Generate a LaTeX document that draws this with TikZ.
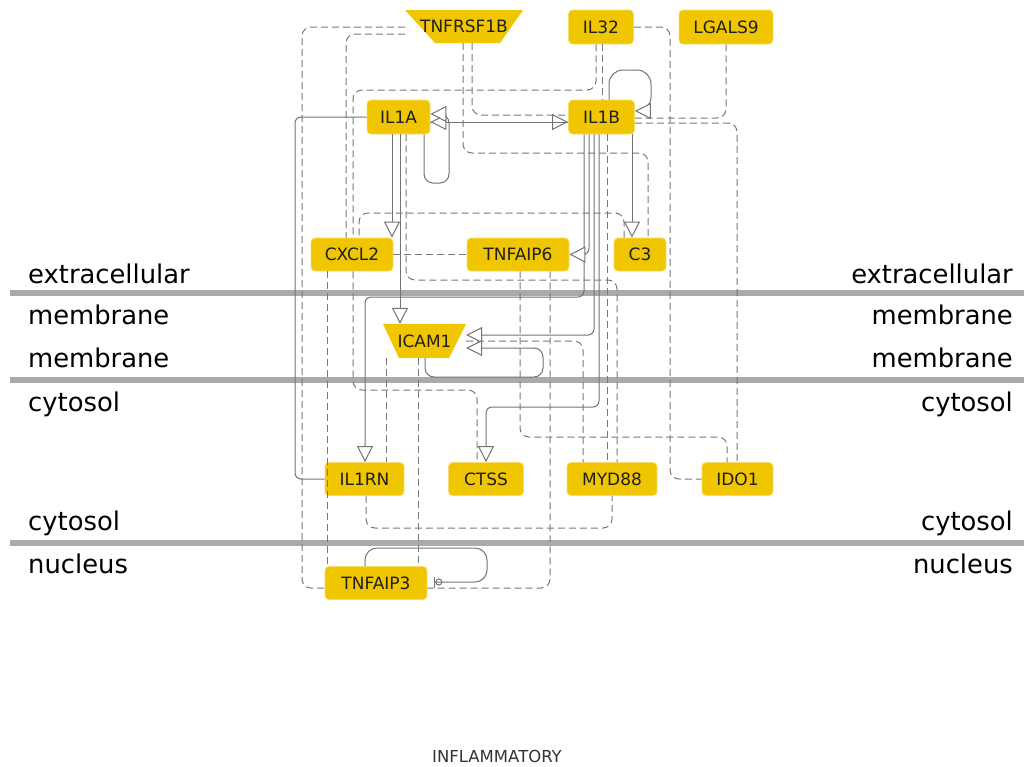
\documentclass[tikz,border=0pt]{standalone}
\usepackage{fontspec}
\newfontfamily\dv{DejaVu Sans}
\usetikzlibrary{arrows.meta}
\definecolor{gold}{RGB}{240,198,0}
\definecolor{goldedge}{RGB}{246,220,110}
\definecolor{edgegray}{RGB}{115,115,115}
\definecolor{dashgray}{RGB}{120,120,120}
\definecolor{bargray}{RGB}{170,170,170}
\begin{document}
\begin{tikzpicture}[x=1pt,y=-1pt,
  gene/.style={rectangle, rounded corners=4pt, fill=gold, draw=goldedge, line width=0.8pt, inner sep=0pt, font=\dv\fontsize{17}{18}\selectfont, text=black!88},
  ghost/.style={rectangle, inner sep=0pt, font=\dv\fontsize{17}{18}\selectfont, text=black!88},
  act/.style={draw=edgegray, line width=1pt, rounded corners=6pt, -{Triangle[length=16pt,width=16pt,fill=white]}},
  inhib/.style={draw=edgegray, line width=1pt, rounded corners=6pt, -{Circle[open,length=7pt,width=7pt]Bar[width=11pt]}, shorten >=7pt},
  plainedge/.style={draw=edgegray, line width=1pt, rounded corners=6pt},
  link/.style={draw=dashgray, line width=1pt, rounded corners=9pt, dash pattern=on 7pt off 4pt},
  comp/.style={font=\dv\fontsize{25.8}{28}\selectfont, inner sep=0pt, text=black},
  cbar/.style={draw=bargray, line width=6pt},
]
\useasboundingbox (0,0) rectangle (1024,766);
% compartment bars
\draw[cbar] (10,293) -- (1024,293);
\draw[cbar] (10,380) -- (1024,380);
\draw[cbar] (10,543) -- (1024,543);
% compartment labels
\node[comp, anchor=base west] (l1) at (28,283) {extracellular};
\node[comp, anchor=base west] (l2) at (28,324) {membrane};
\node[comp, anchor=base west] (l3) at (28,367) {membrane};
\node[comp, anchor=base west] (l4) at (28,411) {cytosol};
\node[comp, anchor=base west] (l5) at (28,530) {cytosol};
\node[comp, anchor=base west] (l6) at (28,573) {nucleus};
\node[comp, anchor=base east] (r1) at (1013,283) {extracellular};
\node[comp, anchor=base east] (r2) at (1013,324) {membrane};
\node[comp, anchor=base east] (r3) at (1013,367) {membrane};
\node[comp, anchor=base east] (r4) at (1013,411) {cytosol};
\node[comp, anchor=base east] (r5) at (1013,530) {cytosol};
\node[comp, anchor=base east] (r6) at (1013,573) {nucleus};
% trapezoid shapes
\fill[gold] (405,10) -- (523,10) -- (500,43) -- (435,43) -- cycle;
\fill[gold] (383,324) -- (466,324) -- (449,358) -- (399,358) -- cycle;
% nodes
\node[ghost, minimum width=118pt, minimum height=33pt] (tnfr) at (464,26.5) {TNFRSF1B};
\node[gene, minimum width=65pt, minimum height=34pt] (il32) at (601,27) {IL32};
\node[gene, minimum width=94pt, minimum height=34pt] (lgals9) at (726,27) {LGALS9};
\node[gene, minimum width=63pt, minimum height=34pt] (il1a) at (398.5,117) {IL1A};
\node[gene, minimum width=66pt, minimum height=34pt] (il1b) at (601.5,117) {IL1B};
\node[gene, minimum width=82pt, minimum height=33pt] (cxcl2) at (352,254.5) {CXCL2};
\node[gene, minimum width=102pt, minimum height=33pt] (tnfaip6) at (518,254.5) {TNFAIP6};
\node[gene, minimum width=52pt, minimum height=33pt] (c3) at (640,254.5) {C3};
\node[ghost, minimum width=83pt, minimum height=34pt] (icam1) at (424.5,341) {ICAM1};
\node[gene, minimum width=79pt, minimum height=33pt] (il1rn) at (364.5,479) {IL1RN};
\node[gene, minimum width=75pt, minimum height=33pt] (ctss) at (486,479) {CTSS};
\node[gene, minimum width=90pt, minimum height=33pt] (myd88) at (612,479) {MYD88};
\node[gene, minimum width=71pt, minimum height=33pt] (ido1) at (737.5,479) {IDO1};
\node[gene, minimum width=102pt, minimum height=33pt] (tnfaip3) at (376,583) {TNFAIP3};
\node[font=\dv\fontsize{16.5}{18}\selectfont, text=black!80, inner sep=0pt] (title) at (497,756) {INFLAMMATORY};
% dashed links
\draw[link] (tnfr.south -| 472,0) -- (472,115) -- (il1b.west |- 0,115);
\draw[link] (tnfr.south -| 463,0) -- (463,153) -- (648,153) -- (c3.north -| 648,0);
\draw[link] (tnfr.west |- 0,27) -- (302,27) -- (302,588) -- (tnfaip3.west |- 0,588);
\draw[link] (tnfr.west |- 0,34) -- (346,34) -- (cxcl2.north -| 346,0);
\draw[link] (il32.south -| 596,0) -- (596,90) -- (353,90) -- (cxcl2.north -| 353,0);
\draw[link] (c3.north -| 624,0) -- (624,213) -- (359,213) -- (cxcl2.north -| 359,0);
\draw[link] (cxcl2.east) -- (tnfaip6.west);
\draw[link] (cxcl2.south -| 327,0) -- (tnfaip3.north -| 327,0);
\draw[link] (cxcl2.south -| 353,0) -- (353,390) -- (477,390) -- (ctss.north -| 477,0);
\draw[link] (il1a.south -| 406,0) -- (406,280) -- (617,280) -- (myd88.north -| 617,0);
\draw[link] (il32.south -| 602,0) -- (il1b.north -| 602,0);
\draw[link] (il32.east) -- (670,27) -- (670,479) -- (ido1.west);
\draw[link] (lgals9.south) -- (726,118) -- (il1b.east |- 0,118);
\draw[link] (il1b.east |- 0,123) -- (737,123) -- (ido1.north -| 737,0);
\draw[link] (tnfaip6.south -| 520,0) -- (520,437) -- (727,437) -- (ido1.north -| 727,0);
\draw[link] (tnfaip6.south -| 550,0) -- (550,588) -- (tnfaip3.east |- 0,588);
\draw[link] (icam1.east |- 0,341) -- (583,341) -- (myd88.north -| 583,0);
\draw[link] (icam1.south -| 386,0) -- (il1rn.north -| 386,0);
\draw[link] (icam1.south -| 418,0) -- (tnfaip3.north -| 418,0);
\draw[link] (il1rn.south -| 366,0) -- (366,528) -- (612,528) -- (myd88.south -| 612,0);
\draw[link] (il1b.south -| 607,0) -- (myd88.north -| 607,0);
% solid activations
\draw[act] (il1a.east |- 0,122) -- (il1b.west |- 0,122);
\draw[act] (il1b.west |- 0,122) -- (il1a.east |- 0,122);
\draw[act, rounded corners=9pt] (il1a.south -| 424,0) -- (424,183) -- (449,183) -- (449,114) [sharp corners] -- (il1a.east |- 0,114);
\draw[act] (il1a.south -| 392,0) -- (cxcl2.north -| 392,0);
\draw[act] (il1a.south -| 400,0) -- (icam1.north -| 400,0);
\draw[plainedge] (il1a.west) -- (295,117) -- (295,479) -- (il1rn.west);
\draw[act] (il1b.south -| 584,0) -- (584,297) -- (365,297) -- (il1rn.north -| 365,0);
\draw[act] (il1b.south -| 589,0) -- (589,254.5) [sharp corners] -- (tnfaip6.east);
\draw[act] (il1b.south -| 594,0) -- (594,335) -- (icam1.east |- 0,335);
\draw[act] (il1b.south -| 599,0) -- (599,407) -- (486,407) -- (ctss.north);
\draw[act] (il1b.south -| 632,0) -- (c3.north -| 632,0);
\draw[act, rounded corners=14pt] (il1b.north -| 609,0) -- (609,70) -- (651,70) -- (651,111) [sharp corners] -- (il1b.east |- 0,111);
\draw[act, rounded corners=9pt] (icam1.south -| 425,0) -- (425,377) -- (543,377) -- (543,348) [sharp corners] -- (icam1.east |- 0,348);
\draw[inhib, rounded corners=12pt] (tnfaip3.north -| 365,0) -- (365,548) -- (487,548) -- (487,582) [sharp corners] -- (tnfaip3.east |- 0,582);
\end{tikzpicture}
\end{document}
